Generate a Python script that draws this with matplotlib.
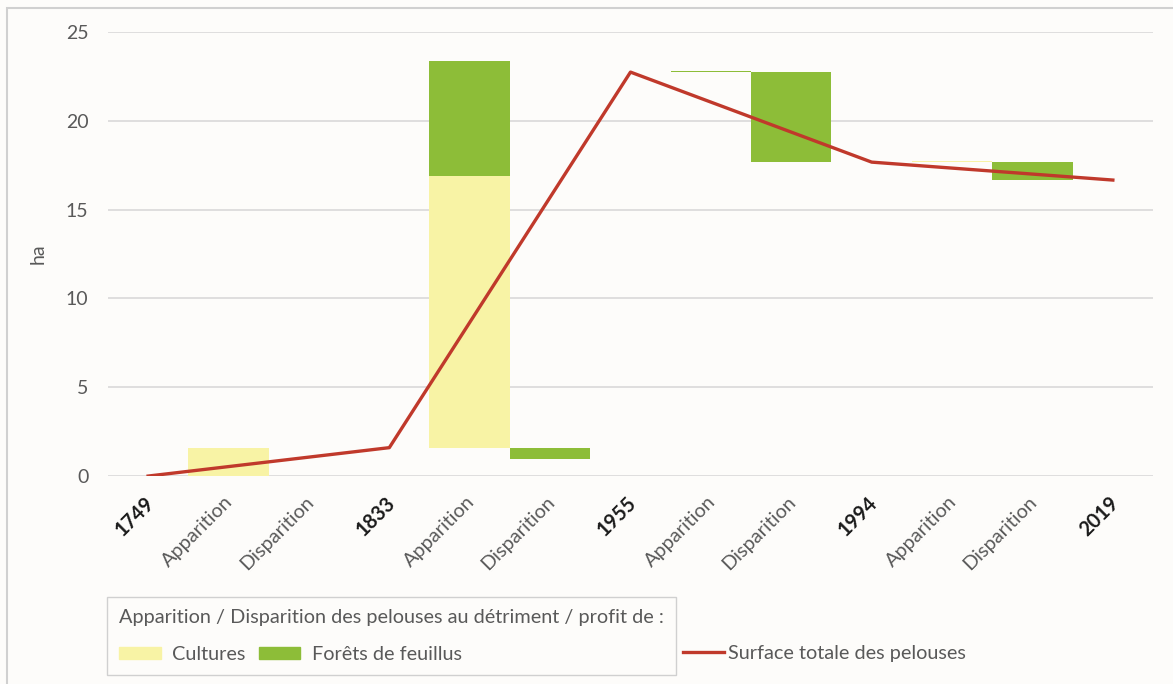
import matplotlib as mpl
import matplotlib.pyplot as plt
from matplotlib.patches import Patch, Rectangle
from matplotlib.lines import Line2D
import matplotlib.transforms as mtransforms

mpl.rcParams['font.family'] = ['Lato', 'DejaVu Sans']

labels = ['1749', 'Apparition', 'Disparition', '1833', 'Apparition', 'Disparition',
          '1955', 'Apparition', 'Disparition', '1994', 'Apparition', 'Disparition', '2019']
is_year = [True, False, False, True, False, False, True, False, False, True, False, False, True]
# invisible base of each floating bar (waterfall)
base = [0, 0, 0, 0, 1.6, 0.95, 0, 22.75, 17.68, 0, 17.68, 16.67, 0]
cultures = [0, 1.6, 0, 0, 15.3, 0, 0, 0, 0, 0, 0.04, 0, 0]
forets = [0, 0, 0, 0, 6.5, 0.65, 0, 0.04, 5.07, 0, 0, 1.01, 0]
year_pos = [0, 3, 6, 9, 12]
surface = [0, 1.6, 22.75, 17.68, 16.67]

c_yellow = '#f8f3a5'
c_green = '#8dbd38'
c_red = '#c0392b'
c_grey = '#595959'
fs = 14

fig = plt.figure(figsize=(11.73, 6.84), dpi=100)
fig.patch.set_facecolor('#fdfcfa')
# frame of the picture (only left/top edges fall inside the canvas)
fig.patches.append(Rectangle((7 / 1173, -0.05), 1.2, 1 - 8 / 684 + 0.05, transform=fig.transFigure,
                             fill=False, edgecolor='#d0d0d0', linewidth=1.5))
ax = fig.add_axes([0.092, 0.304, 0.891, 0.649])
ax.set_facecolor('#fdfcfa')

x = list(range(len(labels)))
ax.bar(x, cultures, bottom=base, width=1.0, color=c_yellow, zorder=2)
top_c = [b + c for b, c in zip(base, cultures)]
ax.bar(x, forets, bottom=top_c, width=1.0, color=c_green, zorder=2)
ax.plot(year_pos, surface, color=c_red, linewidth=2.4, zorder=3)

ax.set_xlim(-0.5, 12.5)
ax.set_ylim(0, 25)
ax.set_yticks([0, 5, 10, 15, 20, 25])
ax.yaxis.grid(True, color='#d9d9d9', linewidth=1.2, zorder=0)
ax.set_axisbelow(True)
for s in ax.spines.values():
    s.set_visible(False)
ax.tick_params(axis='both', length=0)
ax.tick_params(axis='y', labelsize=fs, labelcolor=c_grey, pad=14)
ax.tick_params(axis='x', pad=12)
ax.set_ylabel('ha', fontsize=fs, color=c_grey, labelpad=14)

ax.set_xticks(x)
ax.set_xticklabels(labels)
offset = mtransforms.ScaledTranslation(-3 / 72, 0, fig.dpi_scale_trans)
for lab, yr in zip(ax.get_xticklabels(), is_year):
    lab.set_rotation(45)
    lab.set_rotation_mode('anchor')
    lab.set_ha('right')
    lab.set_va('top')
    lab.set_fontsize(fs + 0.3)
    lab.set_transform(lab.get_transform() + offset)
    if yr:
        lab.set_fontweight('bold')
        lab.set_color('#1a1a1a')
    else:
        lab.set_color(c_grey)

lfs = 14.3
handles = [Patch(color=c_yellow, label='Cultures'), Patch(color=c_green, label='Forêts de feuillus')]
leg1 = fig.legend(handles=handles, ncol=2, loc='upper left', bbox_to_anchor=(107 / 1173, 1 - 597 / 684),
                  borderaxespad=0, borderpad=0.6, labelspacing=1.0,
                  title='Apparition / Disparition des pelouses au détriment / profit de :',
                  title_fontsize=lfs, fontsize=lfs, alignment='left', frameon=True,
                  fancybox=False, edgecolor='#d0d0d0', facecolor='#fdfcfa', framealpha=1,
                  handlelength=2.1, handleheight=0.57, columnspacing=0.67, handletextpad=0.57,
                  labelcolor=c_grey)
leg1.get_title().set_color(c_grey)
leg1.get_frame().set_linewidth(1.0)
fig.legend(handles=[Line2D([], [], color=c_red, linewidth=2.4, label='Surface totale des pelouses')],
           loc='center left', bbox_to_anchor=(683 / 1173, 1 - 653 / 684), borderaxespad=0, borderpad=0,
           frameon=False, fontsize=lfs, handlelength=2.06, handletextpad=0.2, labelcolor=c_grey)

fig.savefig('out.png', dpi=100, facecolor=fig.get_facecolor())
